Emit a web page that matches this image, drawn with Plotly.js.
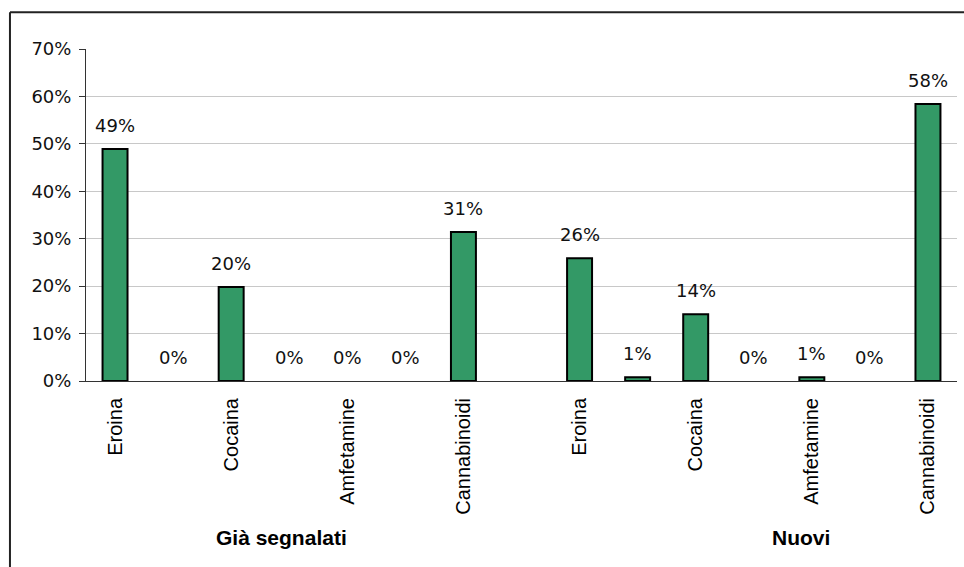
<!DOCTYPE html>
<html>
<head>
<meta charset="utf-8">
<script src="https://cdn.plot.ly/plotly-3.0.1.min.js"></script>
<style>
  html, body { margin: 0; padding: 0; background: #fff; }
  #chart { width: 964px; height: 567px; }
</style>
</head>
<body>
<div id="chart"></div>
<script>
// Slot positions along the x axis: 7 substances per group, one empty slot between groups
const slots = [0, 1, 2, 3, 4, 5, 6, 7, 8, 9, 10, 11, 12, 13, 14];
const tickLabels = ["Eroina", "", "Cocaina", "", "Amfetamine", "", "Cannabinoidi", "",
                    "Eroina", "", "Cocaina", "", "Amfetamine", "", "Cannabinoidi"];
// Percentage of subjects per slot (null = gap between groups)
const values = [48.9, 0, 19.8, 0, 0, 0, 31.4, null,
                25.9, 0.8, 14.1, 0, 0.8, 0, 58.4];
const groupNames = ["Già segnalati", "Nuovi"];
const groupCenters = [2.875, 11.81];

const labelFont = { family: "DejaVu Sans, Verdana, sans-serif", size: 18, color: "#111" };

// Value labels above each bar
const valueAnnotations = slots
  .filter((s, i) => values[i] !== null)
  .map(s => ({
    x: s, y: values[s], xref: "x", yref: "y",
    text: Math.round(values[s]) + "%",
    showarrow: false, yanchor: "bottom", yshift: 11,
    font: labelFont
  }));

const groupAnnotations = groupNames.map((g, i) => ({
  x: groupCenters[i], y: -0.47, xref: "x", yref: "paper",
  text: "<b>" + g + "</b>", showarrow: false,
  xanchor: "center", yanchor: "middle",
  font: { family: "Liberation Sans, Arial, sans-serif", size: 21, color: "#000" }
}));

// Empty bars get no outline so nothing is drawn on the axis for 0%
const outlineWidths = values.map(v => (v ? 2 : 0));

const trace = {
  type: "bar",
  x: slots,
  y: values,
  width: 0.43,
  marker: { color: "#339966", line: { color: "#000", width: outlineWidths } },
  hoverinfo: "skip"
};

const layout = {
  width: 964, height: 567,
  margin: { l: 86, r: 7, t: 49, b: 186 },
  paper_bgcolor: "#fff", plot_bgcolor: "#fff",
  showlegend: false,
  xaxis: {
    range: [-0.5, 14.5],
    tickmode: "array", tickvals: slots, ticktext: tickLabels,
    tickangle: -90, ticks: "", ticklabelstandoff: 8,
    showgrid: false, zeroline: false,
    showline: true, linecolor: "#333", linewidth: 1,
    tickfont: { family: "Liberation Sans, Arial, sans-serif", size: 20, color: "#000" },
    fixedrange: true
  },
  yaxis: {
    range: [0, 70], dtick: 10, ticksuffix: "%",
    ticks: "outside", ticklen: 6, tickcolor: "#333",
    showgrid: true, gridcolor: "#c8c8c8", gridwidth: 1,
    zeroline: false, showline: true, linecolor: "#333", linewidth: 1,
    tickfont: labelFont, ticklabelstandoff: 4,
    fixedrange: true
  },
  annotations: valueAnnotations.concat(groupAnnotations),
  shapes: [
    // Outer frame lines (left and top edges of the chart box)
    { type: "line", xref: "paper", yref: "paper",
      x0: -0.0873, x1: -0.0873, y0: -0.57, y1: 1.111,
      line: { color: "#222", width: 2 } },
    { type: "line", xref: "paper", yref: "paper",
      x0: -0.0873, x1: 1.01, y0: 1.111, y1: 1.111,
      line: { color: "#222", width: 2 } }
  ]
};

Plotly.newPlot("chart", [trace], layout, { displayModeBar: false, staticPlot: true });
</script>
</body>
</html>
